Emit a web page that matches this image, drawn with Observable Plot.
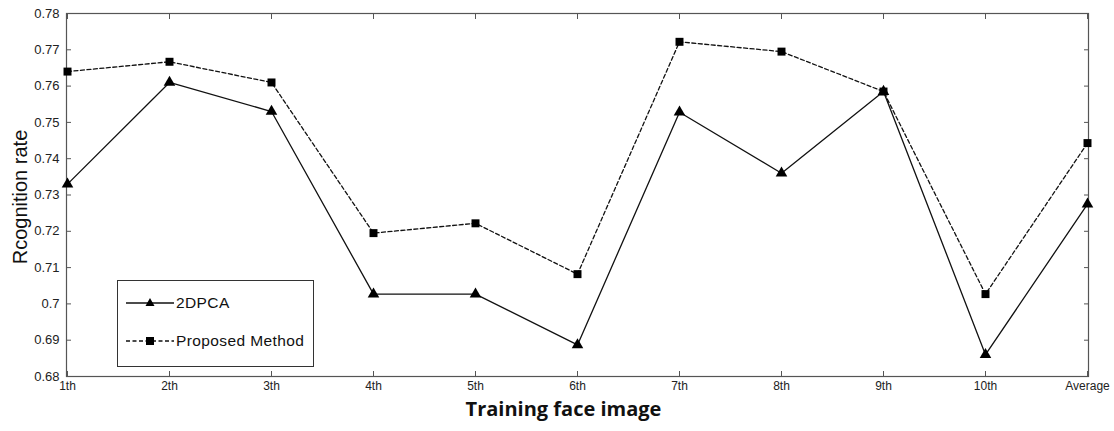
<!DOCTYPE html>
<html>
<head>
<meta charset="utf-8">
<script src="https://cdn.jsdelivr.net/npm/d3@7"></script>
<script src="https://cdn.jsdelivr.net/npm/@observablehq/plot@0.6"></script>
<style>
  html, body { margin: 0; padding: 0; background: #fff; }
  #wrap { position: relative; width: 1114px; height: 431px; }
  #legend {
    position: absolute; left: 117px; top: 280px; width: 195px; height: 85px;
    border: 1px solid #333; background: #fff;
    font-family: "Liberation Sans", Arial, sans-serif; font-size: 15.5px; letter-spacing: 0.4px; color: #111;
  }
  .row { position: absolute; left: 8px; display: flex; align-items: center; }
  .row svg { display: block; margin-right: 2px; }
</style>
</head>
<body>
<div id="wrap"></div>
<script>
const categories = ["1th", "2th", "3th", "4th", "5th", "6th", "7th", "8th", "9th", "10th", "Average"];
const pca2d = [0.733, 0.761, 0.753, 0.7027, 0.7027, 0.6887, 0.7528, 0.736, 0.7585, 0.686, 0.7275];
const proposed = [0.764, 0.7667, 0.761, 0.7195, 0.7222, 0.7082, 0.7722, 0.7695, 0.7585, 0.7027, 0.7443];
const yTicks = [0.68, 0.69, 0.70, 0.71, 0.72, 0.73, 0.74, 0.75, 0.76, 0.77, 0.78];
const seriesNames = ["2DPCA", "Proposed Method"];

const dataA = categories.map((c, i) => ({cat: c, value: pca2d[i], series: seriesNames[0]}));
const dataB = categories.map((c, i) => ({cat: c, value: proposed[i], series: seriesNames[1]}));

const fmt = d => String(+d.toFixed(2));

const chart = Plot.plot({
  width: 1114,
  height: 431,
  marginLeft: 66,
  marginRight: 26,
  marginTop: 13,
  marginBottom: 55,
  style: {fontFamily: "'Liberation Sans', Arial, sans-serif", background: "#fff", color: "#222"},
  x: {type: "point", domain: categories, padding: 0},
  y: {domain: [0.68, 0.78]},
  marks: [
    Plot.frame({stroke: "#555", strokeWidth: 1.2}),
    Plot.axisY(yTicks, {anchor: "left", tickSize: -5, tickPadding: 12, tickFormat: fmt, fontSize: 13, stroke: "#555", label: null}),
    Plot.axisY(yTicks, {anchor: "right", tickSize: -5, tickFormat: () => "", stroke: "#555", label: null}),
    Plot.axisX(categories, {anchor: "bottom", tickSize: -5, tickPadding: 10, fontSize: 12, stroke: "#555", label: null}),
    Plot.axisX(categories, {anchor: "top", tickSize: -5, tickFormat: () => "", stroke: "#555", label: null}),
    Plot.text(["Rcognition rate"], {frameAnchor: "left", textAnchor: "middle", dx: -46, dy: 2, rotate: -90, fontSize: 20, fill: "#111"}),
    Plot.text(["Training face image"], {frameAnchor: "bottom", textAnchor: "middle", dx: -14, dy: 39, fontSize: 20, fontWeight: "bold", fill: "#111", fontFamily: "'Open Sans', Lato, sans-serif"}),
    Plot.line(dataB, {x: "cat", y: "value", stroke: "#111", strokeWidth: 1.3, strokeDasharray: "4,2.5"}),
    Plot.line(dataA, {x: "cat", y: "value", stroke: "#111", strokeWidth: 1.3}),
    Plot.dot(dataB, {x: "cat", y: "value", symbol: "square", r: 4.5, fill: "#000"}),
    Plot.dot(dataA, {x: "cat", y: "value", symbol: "triangle", r: 4.3, fill: "#000"})
  ]
});
document.getElementById("wrap").appendChild(chart);

const legend = document.createElement("div");
legend.id = "legend";
legend.innerHTML = `
  <div class="row" style="top:12px">
    <svg width="48" height="20"><line x1="0" y1="10" x2="48" y2="10" stroke="#111" stroke-width="1.3"/><path d="M24,5 L28.5,13 L19.5,13 Z" fill="#000"/></svg>
    <span>${seriesNames[0]}</span>
  </div>
  <div class="row" style="top:50px">
    <svg width="48" height="20"><line x1="0" y1="10" x2="48" y2="10" stroke="#111" stroke-width="1.3" stroke-dasharray="4,2.5"/><rect x="20" y="6" width="8" height="8" fill="#000"/></svg>
    <span>${seriesNames[1]}</span>
  </div>`;
document.getElementById("wrap").appendChild(legend);
</script>
</body>
</html>
